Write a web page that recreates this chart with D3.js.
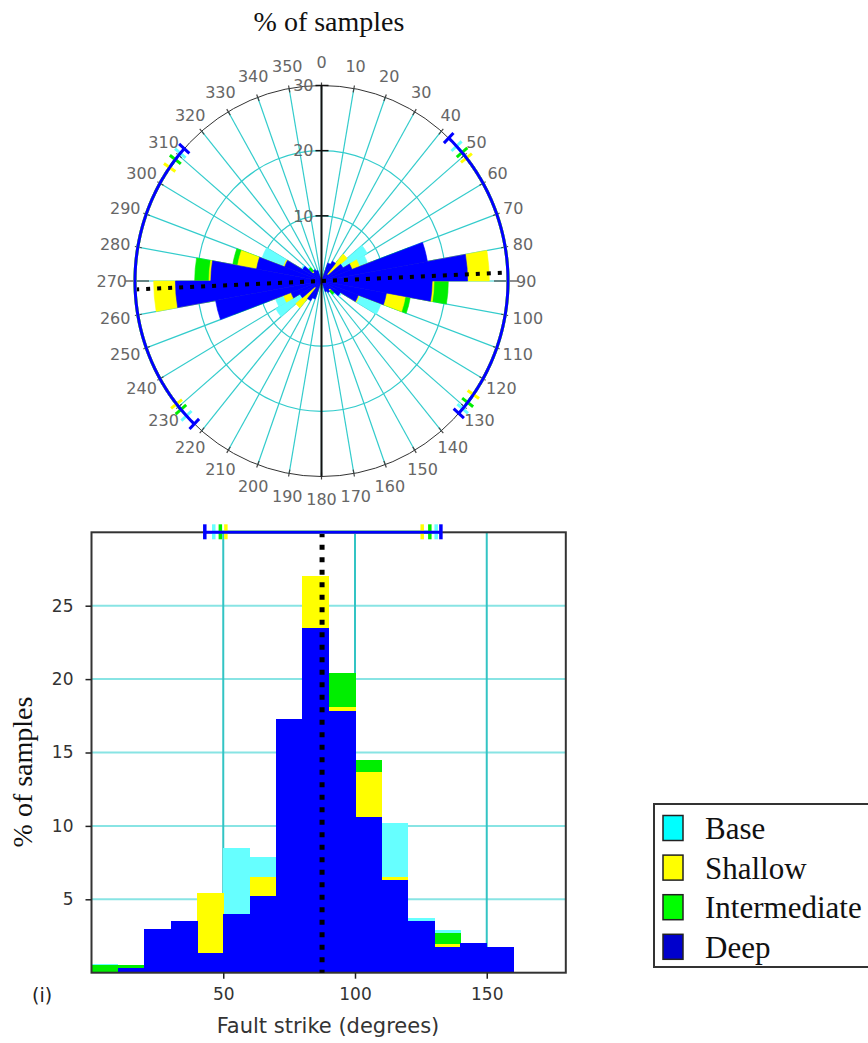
<!DOCTYPE html>
<html lang="en">
<head>
<meta charset="utf-8">
<title>Fault strike rose and histogram</title>
<script src="https://d3js.org/d3.v7.min.js"></script>
<style>
  body { margin: 0; background: #fff; }
  svg { display: block; }
  .serif { font-family: "Liberation Serif", "Times New Roman", serif; }
  .sans { font-family: "DejaVu Sans", sans-serif; }
</style>
</head>
<body>
<svg id="chart" width="868" height="1043"></svg>
<script>
// data (% of samples per 10 degree strike bin)
var seriesNames = ["Base", "Shallow", "Intermediate", "Deep"];
var barColors = ["#66ffff", "#ffff00", "#00ee00", "#0000ff"];
var legendColors = ["#00ffff", "#ffff00", "#00ff00", "#0000cc"];
var binStarts = [0, 10, 20, 30, 40, 50, 60, 70, 80, 90, 100, 110, 120, 130, 140, 150, 160, 170];
var baseValues = [0.6, 0.3, 2.5, 3.0, 1.2, 8.5, 7.9, 15.0, 19.0, 14.0, 10.0, 10.2, 3.75, 2.9, 1.5, 1.0, 0, 0];
var shallowValues = [0, 0, 2.0, 2.5, 5.4, 3.0, 6.5, 9.0, 27.0, 18.1, 13.7, 6.5, 2.5, 1.95, 1.0, 0.5, 0, 0];
var intermediateValues = [0.5, 0.5, 2.5, 3.0, 4.0, 3.5, 5.5, 15.0, 19.0, 20.4, 14.5, 5.0, 2.0, 2.7, 1.5, 0.8, 0, 0];
var deepValues = [0, 0.3, 2.95, 3.5, 1.35, 4.0, 5.2, 17.3, 23.5, 17.8, 10.6, 6.3, 3.5, 1.75, 2.05, 1.75, 0, 0];
// strike range of each class (degrees), same order as seriesNames
var rangeLow = [46.4, 51.0, 48.9, 43.0];
var rangeHigh = [130.8, 125.5, 128.4, 132.6];
var meanStrike = 87.5;
var roseRings = [10, 20];
var roseAxisLabels = [10, 20, 30];
var histYTicks = [5, 10, 15, 20, 25];
var histXTicks = [50, 100, 150];

var valuesByName = {
  "Base": baseValues, "Shallow": shallowValues,
  "Intermediate": intermediateValues, "Deep": deepValues
};
// classes are overplotted, deep last
var drawOrder = ["Base", "Intermediate", "Shallow", "Deep"];
function colorOf(name) { return barColors[seriesNames.indexOf(name)]; }

var svg = d3.select("#chart");
var rad = Math.PI / 180;

// title
svg.append("text").attr("class", "serif")
  .attr("x", 329).attr("y", 31)
  .attr("text-anchor", "middle").attr("font-size", 28).attr("fill", "#111")
  .text("% of samples");

// ---------------- rose diagram ----------------
var cx = 321.5, cy = 281, rx = 186.5, ry = 195.5;
var rScale = d3.scaleLinear().domain([0, 30]).range([0, rx]);
var rose = svg.append("g").attr("transform", "translate(" + cx + "," + cy + ")");
var roseScaled = rose.append("g").attr("transform", "scale(1," + (ry / rx) + ")");

function onEllipse(deg, extra) {
  extra = extra || 0;
  return [(rx + extra) * Math.sin(deg * rad), -(ry + extra) * Math.cos(deg * rad)];
}

// grid: rings and spokes
roseScaled.selectAll(".ring").data(roseRings).enter().append("circle")
  .attr("r", function(d) { return rScale(d); })
  .attr("fill", "none").attr("stroke", "#33cccc").attr("stroke-width", 1.2)
  .attr("vector-effect", "non-scaling-stroke");

var spokeAngles = d3.range(0, 360, 10);
roseScaled.selectAll(".spoke").data(spokeAngles).enter().append("line")
  .attr("x1", 0).attr("y1", 0)
  .attr("x2", function(d) { return rScale(30) * Math.sin(d * rad); })
  .attr("y2", function(d) { return -rScale(30) * Math.cos(d * rad); })
  .attr("stroke", "#33cccc").attr("stroke-width", 1.2)
  .attr("vector-effect", "non-scaling-stroke");

// petals (axial data: each bin drawn at strike and strike+180)
var arc = d3.arc().innerRadius(0);
drawOrder.forEach(function(name) {
  var vals = valuesByName[name];
  var petals = [];
  binStarts.forEach(function(b, i) {
    if (vals[i] > 0) {
      petals.push({ a0: b, v: vals[i] });
      petals.push({ a0: b + 180, v: vals[i] });
    }
  });
  roseScaled.selectAll(".petal-" + name).data(petals).enter().append("path")
    .attr("d", function(d) {
      return arc({ outerRadius: rScale(d.v), startAngle: d.a0 * rad, endAngle: (d.a0 + 10) * rad });
    })
    .attr("fill", colorOf(name))
    .attr("stroke", colorOf(name)).attr("stroke-width", 0.6)
    .attr("vector-effect", "non-scaling-stroke");
});

// outer circle + ticks
rose.append("ellipse").attr("rx", rx).attr("ry", ry)
  .attr("fill", "none").attr("stroke", "#333").attr("stroke-width", 1);
var tickAngles = d3.range(0, 360, 10);
function isSide(d) { return d === 90 || d === 270; }
rose.selectAll(".otick").data(tickAngles).enter().append("line")
  .attr("x1", function(d) { return onEllipse(d, isSide(d) ? -14 : -4)[0]; })
  .attr("y1", function(d) { return onEllipse(d, isSide(d) ? -14 : -4)[1]; })
  .attr("x2", function(d) { return onEllipse(d, isSide(d) ? 10 : 3)[0]; })
  .attr("y2", function(d) { return onEllipse(d, isSide(d) ? 10 : 3)[1]; })
  .attr("stroke", "#444").attr("stroke-width", 1.2);

// vertical axis
rose.append("line").attr("x1", 0).attr("x2", 0).attr("y1", -ry).attr("y2", ry)
  .attr("stroke", "#111").attr("stroke-width", 2);
rose.selectAll(".rtick").data(roseAxisLabels).enter().append("line")
  .attr("x1", -6).attr("x2", 7)
  .attr("y1", function(d) { return -rScale(d) * ry / rx; })
  .attr("y2", function(d) { return -rScale(d) * ry / rx; })
  .attr("stroke", "#111").attr("stroke-width", 1.5);
rose.selectAll(".rlab").data(roseAxisLabels).enter().append("text")
  .attr("class", "sans").attr("font-size", 16).attr("fill", "#666")
  .attr("x", -8).attr("y", function(d) { return -rScale(d) * ry / rx; })
  .attr("dy", "0.36em").attr("text-anchor", "end")
  .text(function(d) { return d; });

// angle labels
rose.selectAll(".alab").data(tickAngles).enter().append("text")
  .attr("class", "sans").attr("font-size", 16).attr("fill", "#666")
  .attr("text-anchor", "middle").attr("dy", "0.36em")
  .text(function(d) { return d; })
  .each(function(d) {
    var hw = this.getComputedTextLength() / 2;
    var s = Math.sin(d * rad), c = Math.cos(d * rad);
    d3.select(this)
      .attr("x", (rx + 8 + hw * Math.abs(s)) * s)
      .attr("y", -(ry + 16 + 7 * Math.abs(c)) * c);
  });

// mean direction (dotted)
var m1 = onEllipse(meanStrike + 180), m2 = onEllipse(meanStrike);
rose.append("line").attr("x1", m1[0]).attr("y1", m1[1]).attr("x2", m2[0]).attr("y2", m2[1])
  .attr("stroke", "#000").attr("stroke-width", 4).attr("stroke-dasharray", "4,7");

// strike ranges on the rim
var rimLine = d3.line();
drawOrder.forEach(function(name) {
  var k = seriesNames.indexOf(name);
  [0, 180].forEach(function(off) {
    var lo = rangeLow[k] + off, hi = rangeHigh[k] + off;
    var pts = d3.range(lo, hi, 0.5).concat([hi]).map(function(a) { return onEllipse(a); });
    rose.append("path").attr("d", rimLine(pts))
      .attr("fill", "none").attr("stroke", barColors[k]).attr("stroke-width", 3);
    [lo, hi].forEach(function(a) {
      var p1 = onEllipse(a, -7), p2 = onEllipse(a, 7);
      rose.append("line").attr("x1", p1[0]).attr("y1", p1[1]).attr("x2", p2[0]).attr("y2", p2[1])
        .attr("stroke", barColors[k]).attr("stroke-width", 3);
    });
  });
});

// ---------------- histogram ----------------
var x = d3.scaleLinear().domain([0, 180]).range([91.5, 565.8]);
var y = d3.scaleLinear().domain([0, 30]).range([972.7, 532.3]);
var hist = svg.append("g");

hist.selectAll(".hgrid").data(histYTicks).enter().append("line")
  .attr("x1", x(0)).attr("x2", x(180))
  .attr("y1", function(d) { return y(d); }).attr("y2", function(d) { return y(d); })
  .attr("stroke", "#88e4e4").attr("stroke-width", 2);
hist.selectAll(".vgrid").data(histXTicks).enter().append("line")
  .attr("y1", y(0)).attr("y2", y(30))
  .attr("x1", function(d) { return x(d); }).attr("x2", function(d) { return x(d); })
  .attr("stroke", "#33c4c4").attr("stroke-width", 2);

drawOrder.forEach(function(name) {
  var vals = valuesByName[name];
  hist.selectAll(".bar-" + name).data(binStarts.map(function(b, i) { return { b: b, v: vals[i] }; })
      .filter(function(d) { return d.v > 0; }))
    .enter().append("rect")
    .attr("x", function(d) { return x(d.b); })
    .attr("width", function(d) { return x(d.b + 10) - x(d.b) + 0.6; })
    .attr("y", function(d) { return y(d.v); })
    .attr("height", function(d) { return y(0) - y(d.v); })
    .attr("fill", colorOf(name))
    .attr("shape-rendering", "crispEdges");
});

// frame
hist.append("rect").attr("x", x(0)).attr("y", y(30))
  .attr("width", x(180) - x(0)).attr("height", y(0) - y(30))
  .attr("fill", "none").attr("stroke", "#333").attr("stroke-width", 2);

// axes
var yAxis = hist.append("g").attr("transform", "translate(" + x(0) + ",0)")
  .call(d3.axisLeft(y).tickValues(histYTicks).tickSize(6).tickPadding(12));
var xAxis = hist.append("g").attr("transform", "translate(0," + y(0) + ")")
  .call(d3.axisBottom(x).tickValues(histXTicks).tickSize(6).tickPadding(9));
[yAxis, xAxis].forEach(function(g) {
  g.select(".domain").remove();
  g.selectAll(".tick line").attr("stroke", "#222").attr("stroke-width", 1.5);
  g.selectAll("text").attr("font-family", "DejaVu Sans, sans-serif").attr("font-size", 17).attr("fill", "#333");
});

// mean dotted line
hist.append("line").attr("x1", x(meanStrike)).attr("x2", x(meanStrike))
  .attr("y1", y(30)).attr("y2", y(0))
  .attr("stroke", "#000").attr("stroke-width", 5).attr("stroke-dasharray", "5,7.5");

// ranges along the top edge
drawOrder.forEach(function(name) {
  var k = seriesNames.indexOf(name);
  hist.append("line").attr("x1", x(rangeLow[k])).attr("x2", x(rangeHigh[k]))
    .attr("y1", y(30)).attr("y2", y(30))
    .attr("stroke", barColors[k]).attr("stroke-width", 3);
  [rangeLow[k], rangeHigh[k]].forEach(function(a) {
    hist.append("line").attr("x1", x(a)).attr("x2", x(a))
      .attr("y1", y(30) - 8).attr("y2", y(30) + 7)
      .attr("stroke", barColors[k]).attr("stroke-width", 3.5);
  });
});

// labels
svg.append("text").attr("class", "sans").attr("x", 328).attr("y", 1033)
  .attr("text-anchor", "middle").attr("font-size", 21).attr("fill", "#333")
  .text("Fault strike (degrees)");
svg.append("text").attr("class", "serif")
  .attr("transform", "translate(32,772) rotate(-90)")
  .attr("text-anchor", "middle").attr("font-size", 28).attr("fill", "#111")
  .text("% of samples");
svg.append("text").attr("class", "sans").attr("x", 32).attr("y", 1002)
  .attr("font-size", 19).attr("fill", "#222").text("(i)");

// ---------------- legend ----------------
var legend = svg.append("g");
legend.append("rect").attr("x", 654).attr("y", 804).attr("width", 240).attr("height", 163)
  .attr("fill", "#fff").attr("stroke", "#333").attr("stroke-width", 2);
var items = legend.selectAll(".item").data(seriesNames).enter().append("g")
  .attr("transform", function(d, i) { return "translate(0," + (828 + i * 39.6) + ")"; });
items.append("rect").attr("x", 663).attr("y", -12.5).attr("width", 20).attr("height", 25)
  .attr("fill", function(d, i) { return legendColors[i]; })
  .attr("stroke", "#222").attr("stroke-width", 1.5);
items.append("text").attr("class", "serif").attr("x", 705).attr("y", 11)
  .attr("font-size", 31).attr("fill", "#111")
  .text(function(d) { return d; });
</script>
</body>
</html>
